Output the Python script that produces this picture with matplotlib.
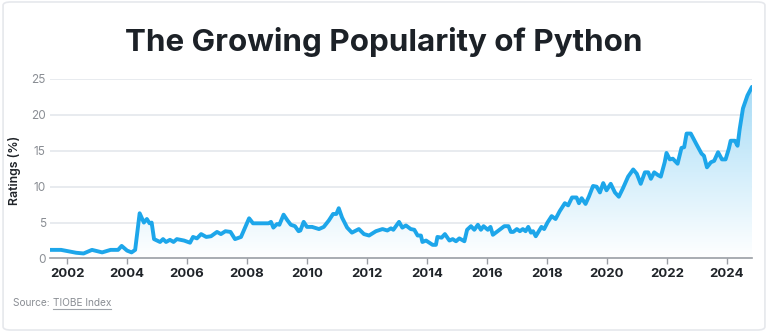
import numpy as np
import matplotlib
matplotlib.use("Agg")
import matplotlib.pyplot as plt
from matplotlib.colors import LinearSegmentedColormap
from matplotlib.patches import FancyBboxPatch

# TIOBE rating of Python, read as (decimal year, rating %)
years = [2001.43, 2001.8, 2002.3, 2002.55, 2002.83, 2003.17, 2003.45, 2003.7, 2003.82, 2004.0,
         2004.15, 2004.27, 2004.42, 2004.56, 2004.66, 2004.75, 2004.82, 2004.9, 2005.1, 2005.2,
         2005.3, 2005.43, 2005.55, 2005.66, 2005.9, 2006.1, 2006.2, 2006.33, 2006.47, 2006.64,
         2006.8, 2007.0, 2007.13, 2007.28, 2007.45, 2007.6, 2007.8, 2008.07, 2008.2, 2008.72,
         2008.8, 2008.88, 2009.0, 2009.08, 2009.22, 2009.35, 2009.46, 2009.6, 2009.72, 2009.78,
         2009.89, 2010.0, 2010.17, 2010.4, 2010.56, 2010.73, 2010.87, 2010.98, 2011.06, 2011.17,
         2011.34, 2011.5, 2011.73, 2011.9, 2012.07, 2012.3, 2012.52, 2012.68, 2012.8, 2012.88,
         2013.07, 2013.18, 2013.3, 2013.46, 2013.58, 2013.69, 2013.8, 2013.85, 2013.97, 2014.19,
         2014.3, 2014.35, 2014.49, 2014.6, 2014.75, 2014.86, 2014.97, 2015.08, 2015.25, 2015.34,
         2015.47, 2015.58, 2015.7, 2015.8, 2015.89, 2016.03, 2016.12, 2016.2, 2016.42, 2016.58,
         2016.72, 2016.8, 2016.88, 2017.0, 2017.1, 2017.2, 2017.29, 2017.38, 2017.47, 2017.54,
         2017.63, 2017.73, 2017.82, 2017.91, 2018.02, 2018.16, 2018.29, 2018.43, 2018.6, 2018.71,
         2018.84, 2018.99, 2019.07, 2019.16, 2019.29, 2019.4, 2019.54, 2019.66, 2019.77, 2019.88,
         2019.99, 2020.13, 2020.27, 2020.4, 2020.54, 2020.71, 2020.88, 2021.0, 2021.13, 2021.27,
         2021.38, 2021.47, 2021.58, 2021.71, 2021.8, 2021.93, 2021.99, 2022.1, 2022.2, 2022.36,
         2022.49, 2022.58, 2022.66, 2022.8, 2022.99, 2023.16, 2023.24, 2023.34, 2023.47, 2023.58,
         2023.71, 2023.84, 2023.96, 2024.07, 2024.13, 2024.27, 2024.36, 2024.43, 2024.54, 2024.69,
         2024.84]
ratings = [1.2, 1.2, 0.8, 0.7, 1.2, 0.85, 1.2, 1.2, 1.75, 1.1,
           0.85, 1.2, 6.3, 5.0, 5.5, 4.9, 5.0, 2.7, 2.3, 2.7,
           2.3, 2.6, 2.3, 2.7, 2.5, 2.2, 3.0, 2.8, 3.4, 3.0,
           3.1, 3.7, 3.4, 3.8, 3.7, 2.7, 3.0, 5.6, 4.9, 4.9,
           5.1, 4.3, 4.8, 4.7, 6.1, 5.3, 4.7, 4.5, 3.8, 3.9,
           5.1, 4.4, 4.4, 4.1, 4.4, 5.3, 6.2, 6.2, 7.0, 5.7,
           4.3, 3.6, 4.1, 3.4, 3.2, 3.8, 4.1, 3.9, 4.2, 4.0,
           5.1, 4.3, 4.6, 4.1, 4.0, 3.2, 3.2, 2.3, 2.5, 1.9,
           1.9, 3.0, 2.9, 3.4, 2.5, 2.7, 2.4, 2.8, 2.4, 4.0,
           4.5, 4.0, 4.7, 4.0, 4.5, 4.0, 4.4, 3.3, 4.0, 4.5,
           4.5, 3.7, 3.7, 4.1, 3.8, 4.1, 3.8, 4.4, 3.6, 3.8,
           3.1, 3.8, 4.4, 4.1, 5.0, 5.9, 5.5, 6.6, 7.7, 7.4,
           8.5, 8.5, 7.7, 8.4, 7.6, 8.6, 10.1, 10.0, 9.2, 10.5,
           9.5, 10.4, 9.2, 8.6, 9.8, 11.4, 12.4, 11.8, 10.4, 12.0,
           12.0, 11.1, 12.0, 11.6, 11.4, 13.4, 14.7, 13.8, 13.9, 13.2,
           15.4, 15.5, 17.4, 17.4, 15.9, 14.6, 14.3, 12.7, 13.4, 13.6,
           14.8, 13.8, 13.8, 15.3, 16.4, 16.4, 15.7, 18.0, 20.9, 22.7,
           23.9]

tick_years = [2002, 2004, 2006, 2008, 2010, 2012, 2014, 2016, 2018, 2020, 2022, 2024]
y_ticks = [0, 5, 10, 15, 20, 25]

line_color = "#1da6ea"
plt.rcParams["font.family"] = ["Inter", "DejaVu Sans"]

fig = plt.figure(figsize=(7.68, 3.32), dpi=100)
fig.patch.set_facecolor("white")

# light frame around the card
frame = FancyBboxPatch((0.004, 0.006), 0.992, 0.988, boxstyle="round,pad=0,rounding_size=0.01",
                       transform=fig.transFigure, facecolor="none", edgecolor="#e6e8ec", lw=1.2)
fig.patches.append(frame)

ax = fig.add_axes([0.0651, 0.2214, 0.914, 0.5407])
x = np.array(years)
y = np.array(ratings)
ax.set_xlim(x[0], x[-1])
ax.set_ylim(0, 25)

# gradient fill under the line, clipped to the area polygon
cmap = LinearSegmentedColormap.from_list("fade", ["#ffffff", "#d3eefb", "#a6dbf6"])
grad = np.linspace(0, 1, 256).reshape(-1, 1)
area = ax.fill_between(x, y, 0, color="none", lw=0)
img = ax.imshow(grad, cmap=cmap, aspect="auto", origin="lower",
                extent=[x[0], x[-1], 0, 24], zorder=1)
img.set_clip_path(area.get_paths()[0], transform=ax.transData)

ax.plot(x, y, color=line_color, lw=2.8, solid_joinstyle="round", solid_capstyle="round", zorder=3)

for v in y_ticks[1:]:
    ax.axhline(v, color="#e8ebef", lw=1.4, zorder=0)

for s in ["top", "right", "left"]:
    ax.spines[s].set_visible(False)
ax.spines["bottom"].set_color("#9a9ea4")
ax.spines["bottom"].set_linewidth(1.2)
ax.spines["bottom"].set_zorder(4)

ax.set_yticks(y_ticks)
ax.set_yticklabels([str(v) for v in y_ticks])
ax.tick_params(axis="y", length=0, pad=3, labelsize=8.5, labelcolor="#8a8e94")
ax.set_xticks(tick_years)
ax.set_xticklabels([str(t) for t in tick_years])
ax.tick_params(axis="x", length=4, width=1, color="#9a9ea4", pad=3, labelsize=9.5, labelcolor="#1f2328")
for lbl in ax.get_xticklabels():
    lbl.set_fontweight("bold")

ax.set_ylabel("Ratings (%)", fontsize=8.8, fontweight="semibold", color="#1f2328")
ax.yaxis.set_label_coords(-0.042, 0.49)

fig.text(0.5, 0.874, "The Growing Popularity of Python", ha="center", va="center",
         fontsize=22.6, fontweight="bold", color="#1c2127")

src = fig.text(0.017, 0.088, "Source: ", ha="left", va="center", fontsize=7.3, color="#8a8e94")
fig.canvas.draw()
bb = src.get_window_extent()
link = fig.text(bb.x1 / fig.bbox.width, 0.088, "TIOBE Index", ha="left", va="center",
                fontsize=7.3, color="#8a8e94")
lb = link.get_window_extent()
fig.add_artist(plt.Line2D([lb.x0 / fig.bbox.width, lb.x1 / fig.bbox.width],
                          [(lb.y0 - 1) / fig.bbox.height] * 2, color="#a0a4aa", lw=0.8))

fig.savefig("out.png", dpi=100, facecolor="white")
